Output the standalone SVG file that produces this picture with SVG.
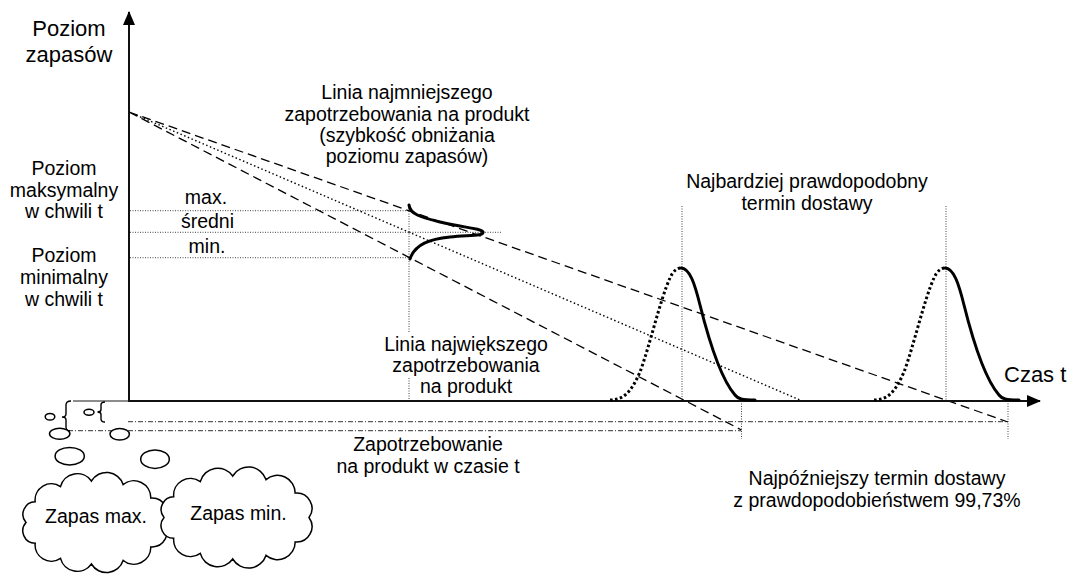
<svg xmlns="http://www.w3.org/2000/svg" xmlns:xlink="http://www.w3.org/1999/xlink" width="1072" height="574" viewBox="0 0 1072 574">
  <style>
    text { font-family: "Liberation Sans", Arial, sans-serif; font-size: 19.5px; fill: #000; }
    .mid { text-anchor: middle; }
    .big { font-size: 22px; }
    .axis { stroke: #111; stroke-width: 2; fill: none; }
    .dash { stroke: #000; stroke-width: 1.3; stroke-dasharray: 9 5; fill: none; }
    .dot { stroke: #000; stroke-width: 1.4; stroke-dasharray: 1.5 2.5; fill: none; }
    .guide { stroke: #444; stroke-width: 1; stroke-dasharray: 1 1.5; fill: none; }
    .dashdot { stroke: #333; stroke-width: 1; stroke-dasharray: 5 2 1 2; fill: none; }
    .curve { stroke: #000; stroke-width: 3; fill: none; stroke-linecap: round; }
    .curve-dot { stroke: #000; stroke-width: 3; stroke-dasharray: 2.6 2.4; fill: none; }
    .cloud { stroke: #000; stroke-width: 1.5; fill: #fff; }
    .thin { stroke: #000; stroke-width: 1.4; fill: none; }
  </style>
  <defs>
    <marker id="arrow" viewBox="0 0 14 12" refX="13" refY="6" markerWidth="14" markerHeight="12" markerUnits="userSpaceOnUse" orient="auto">
      <path d="M0,0 L14,6 L0,12 Z" fill="#000"/>
    </marker>
    <!-- delivery-time distribution: dotted rising side, solid falling side -->
    <g id="delivery-peak">
      <path class="curve-dot" d="M610,400 C625,400 632,390 640,372 C650,345 660,300 670,278 C673,271 677,268 681,268"/>
      <path class="curve" d="M681,268 C690,268 695,285 700,305 C710,345 722,380 735,395 C738,399 742,400 755,400"/>
    </g>
  </defs>

  <rect width="1072" height="574" fill="#fff"/>

  <g id="connectors">
    <!-- guide lines -->
    <line class="guide" x1="130" y1="210.7" x2="409" y2="210.7"/>
    <line class="guide" x1="130" y1="232.3" x2="502" y2="232.3"/>
    <line class="guide" x1="130" y1="257.7" x2="409" y2="257.7"/>
    <line class="guide" x1="409" y1="206" x2="409" y2="333"/>
    <line class="guide" x1="409" y1="378" x2="409" y2="401"/>
    <line class="guide" x1="682" y1="206" x2="682" y2="401"/>
    <line class="guide" x1="946" y1="206" x2="946" y2="401"/>
    <line class="guide" x1="741.5" y1="401" x2="741.5" y2="439"/>
    <line class="guide" x1="1008" y1="401" x2="1008" y2="439"/>

    <!-- demand lines from initial stock level -->
    <line class="dash" x1="129" y1="112" x2="1008" y2="422"/>
    <line class="dot" x1="129" y1="112" x2="800" y2="400"/>
    <line class="dash" x1="129" y1="112" x2="741.5" y2="430"/>

    <!-- stock ranges -->
    <line class="dashdot" x1="128" y1="421.7" x2="1008" y2="421.7"/>
    <line class="dashdot" x1="68" y1="430.7" x2="741" y2="430.7"/>

    <!-- axes -->
    <line stroke="#666" stroke-width="1.5" x1="73" y1="401" x2="129" y2="401"/>
    <line class="axis" x1="128" y1="401" x2="1040" y2="401" marker-end="url(#arrow)"/>
    <line class="axis" x1="129" y1="401" x2="129" y2="12" marker-end="url(#arrow)"/>

    <!-- braces -->
    <path class="thin" d="M71,401 Q66,401 66,405 L66,414 Q66,417 62,417 Q66,417 66,420 L66,427 Q66,431 70,431"/>
    <path class="thin" d="M105,402 Q101,402 101,405 L101,409.5 Q101,412 97.5,412 Q101,412 101,414.5 L101,419 Q101,422 105,422"/>
  </g>

  <g id="demand-distribution">
    <path class="curve" d="M409,205 C410,214 420,217 440,222 C465,228 480,228 483,232 C484,236 470,235 450,237 C430,239 415,244 410,259"/>
  </g>

  <g id="delivery-1">
    <use xlink:href="#delivery-peak"/>
  </g>
  <g id="delivery-2">
    <use xlink:href="#delivery-peak" transform="translate(264,0)"/>
  </g>

  <!-- thought bubbles -->
  <g id="bubbles">
    <ellipse class="cloud" cx="50" cy="416.7" rx="4.8" ry="3.3"/>
    <ellipse class="cloud" cx="89" cy="412.3" rx="5" ry="3"/>
    <ellipse class="cloud" cx="59.7" cy="433.8" rx="10.2" ry="5.5"/>
    <ellipse class="cloud" cx="119.7" cy="434.2" rx="9.7" ry="5.8"/>
    <ellipse class="cloud" cx="69.7" cy="456.2" rx="14.6" ry="8.8"/>
    <ellipse class="cloud" cx="155" cy="459.2" rx="14.3" ry="9.2"/>
  </g>

  <g id="cloud-max">
    <path class="cloud" d="M164,522.5 A15.2,15.2 0 0 1 150.8,546.9 A17,17 0 0 1 123.1,560.4 A17.5,17.5 0 0 1 91.4,564 A17.3,17.3 0 0 1 60.5,558.4 A16.2,16.2 0 0 1 35.2,543.3 A12.5,12.5 0 0 1 26,522.5 A12.5,12.5 0 0 1 35.2,501.8 A16.2,16.2 0 0 1 60.5,486.6 A17.3,17.3 0 0 1 91.4,481 A17.5,17.5 0 0 1 123.1,484.6 A17,17 0 0 1 150.8,498.1 A15.2,15.2 0 0 1 164,522.5 Z"/>
    <text class="mid" x="96" y="523">Zapas max.</text>
  </g>

  <g id="cloud-min">
    <path class="cloud" d="M309,517.5 A15.4,15.4 0 0 1 295.2,541.9 A17.7,17.7 0 0 1 266,555.4 A18.4,18.4 0 0 1 232.7,559 A18.1,18.1 0 0 1 200.3,553.4 A16.8,16.8 0 0 1 173.7,538.3 A12.7,12.7 0 0 1 164,517.5 A12.7,12.7 0 0 1 173.7,496.8 A16.8,16.8 0 0 1 200.3,481.6 A18.1,18.1 0 0 1 232.7,476 A18.4,18.4 0 0 1 266,479.6 A17.7,17.7 0 0 1 295.2,493.1 A15.4,15.4 0 0 1 309,517.5 Z"/>
    <text class="mid" x="238.5" y="520">Zapas min.</text>
  </g>

  <g id="label-stock-level">
    <text class="mid big" x="69" y="36">Poziom</text>
    <text class="mid big" x="69" y="62">zapasów</text>
  </g>
  <g id="label-time">
    <text class="big" x="1004" y="382">Czas t</text>
  </g>
  <g id="label-min-demand-line">
    <text class="mid" x="407" y="99">Linia najmniejszego</text>
    <text class="mid" x="407" y="120.5">zapotrzebowania na produkt</text>
    <text class="mid" x="407" y="142">(szybkość obniżania</text>
    <text class="mid" x="407" y="163">poziomu zapasów)</text>
  </g>
  <g id="label-max-level">
    <text class="mid" x="64" y="175">Poziom</text>
    <text class="mid" x="64" y="196.5">maksymalny</text>
    <text class="mid" x="64" y="218">w chwili t</text>
  </g>
  <g id="label-min-level">
    <text class="mid" x="64" y="262">Poziom</text>
    <text class="mid" x="64" y="284">minimalny</text>
    <text class="mid" x="64" y="306">w chwili t</text>
  </g>
  <g id="label-range">
    <text class="mid" x="206" y="204">max.</text>
    <text class="mid" x="207.5" y="228">średni</text>
    <text class="mid" x="207" y="252.5">min.</text>
  </g>
  <g id="label-most-likely">
    <text class="mid" x="807" y="188">Najbardziej prawdopodobny</text>
    <text class="mid" x="807" y="210">termin dostawy</text>
  </g>
  <g id="label-max-demand-line">
    <text class="mid" x="466" y="350.5">Linia największego</text>
    <text class="mid" x="466" y="371.5">zapotrzebowania</text>
    <text class="mid" x="466" y="393">na produkt</text>
  </g>
  <g id="label-demand">
    <text class="mid" x="428" y="451">Zapotrzebowanie</text>
    <text class="mid" x="428" y="473">na produkt w czasie t</text>
  </g>
  <g id="label-latest">
    <text class="mid" x="877" y="485">Najpóźniejszy termin dostawy</text>
    <text class="mid" x="877" y="507">z prawdopodobieństwem 99,73%</text>
  </g>
</svg>
